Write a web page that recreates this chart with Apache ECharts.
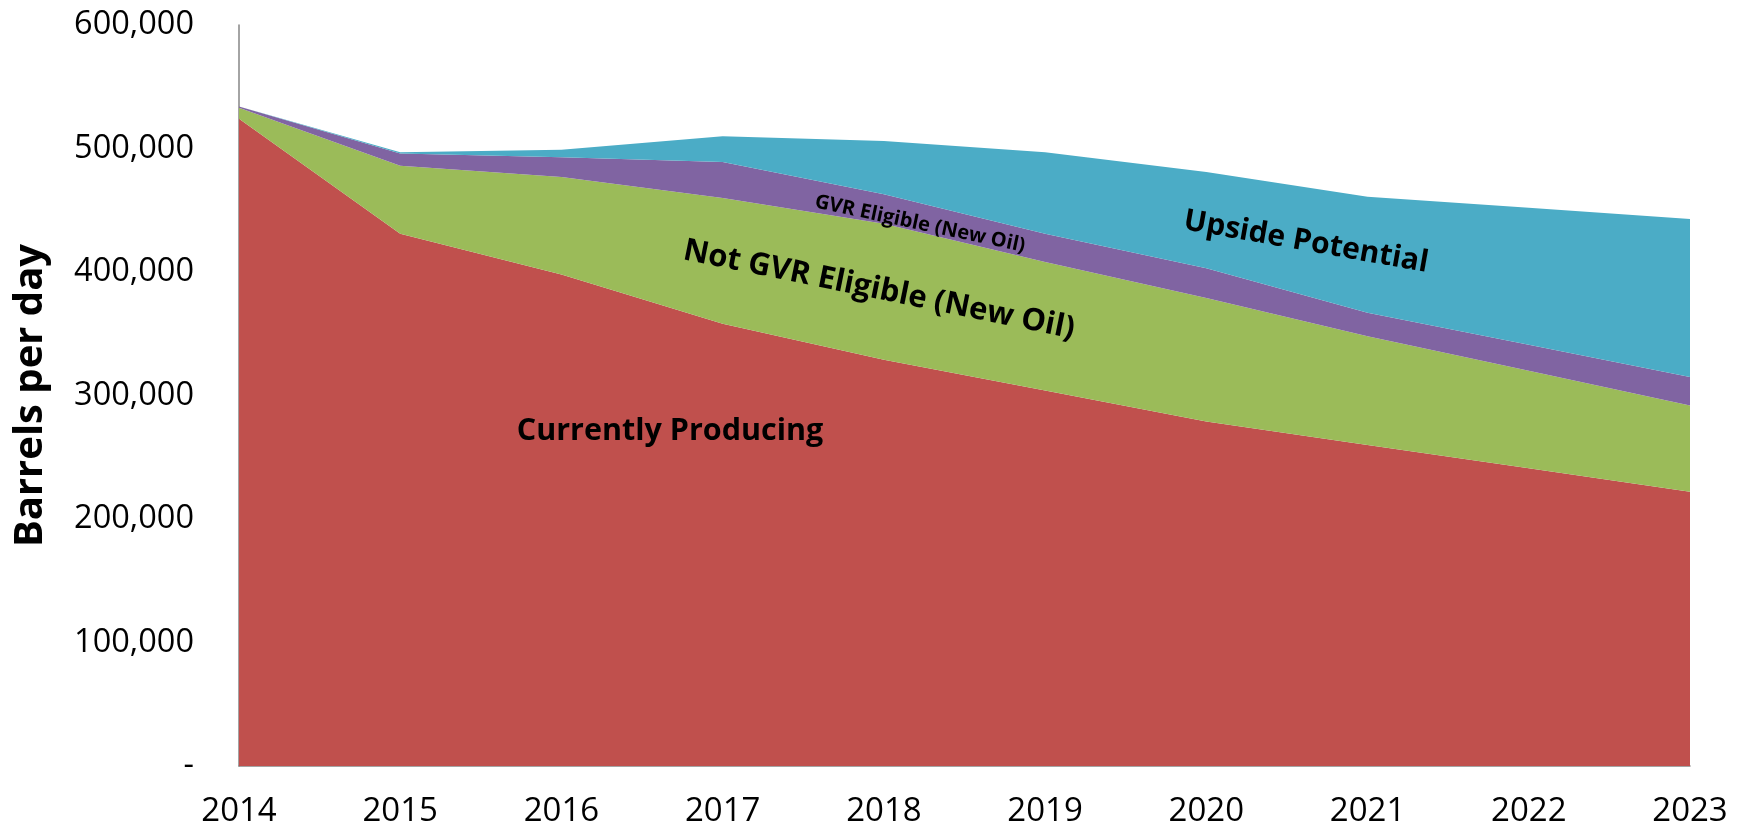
<!DOCTYPE html>
<html>
<head>
<meta charset="utf-8">
<script src="https://cdn.jsdelivr.net/npm/echarts@6/dist/echarts.min.js"></script>
<style>
  html, body { margin: 0; padding: 0; background: #fff; }
  #chart { width: 1745px; height: 833px; }
</style>
</head>
<body>
<div id="chart"></div>
<script>
// years on the x axis
const years = ['2014', '2015', '2016', '2017', '2018', '2019', '2020', '2021', '2022', '2023'];

// barrels per day, stacked bottom to top
const currentlyProducing = [524000, 431000, 398000, 358000, 329000, 304000, 279000, 260000, 241000, 222000];
const notGvrEligible     = [9000, 55000, 79000, 102000, 110000, 104000, 100000, 88000, 79000, 70000];
const gvrEligible        = [1000, 10000, 16000, 29000, 24000, 23000, 24000, 19000, 21000, 23000];
const upsidePotential    = [0, 1000, 6000, 21000, 43000, 66000, 78000, 94000, 111000, 128000];

const seriesNames = ['Currently Producing', 'Not GVR Eligible (New Oil)', 'GVR Eligible (New Oil)', 'Upside Potential'];
const colors = ['#C0504D', '#9BBB59', '#8064A2', '#4BACC6'];

const font = "'Open Sans', 'Noto Sans', sans-serif";

const chart = echarts.init(document.getElementById('chart'));

function areaSeries(name, data, color) {
  return {
    name: name,
    type: 'line',
    stack: 'total',
    data: data,
    showSymbol: false,
    lineStyle: { width: 0 },
    areaStyle: { color: color, opacity: 1 },
    itemStyle: { color: color },
    emphasis: { disabled: true }
  };
}

// annotation text inside the areas
function areaLabel(text, x, y, size, angleDeg) {
  return {
    type: 'text',
    x: x,
    y: y,
    rotation: -angleDeg * Math.PI / 180,
    z: 100,
    style: {
      text: text,
      fontFamily: font,
      fontWeight: 'bold',
      fontSize: size,
      fill: '#000',
      align: 'center',
      verticalAlign: 'middle'
    }
  };
}

const option = {
  animation: false,
  grid: { left: 239, right: 55, top: 25, bottom: 67 },
  xAxis: {
    type: 'category',
    data: years,
    boundaryGap: false,
    axisLine: { lineStyle: { color: '#868686', width: 1.5 } },
    axisTick: { show: false },
    axisLabel: { color: '#000', fontFamily: font, fontSize: 33, margin: 29 }
  },
  yAxis: {
    type: 'value',
    min: 0,
    max: 600000,
    interval: 100000,
    name: 'Barrels per day',
    nameLocation: 'middle',
    nameGap: 188,
    nameTextStyle: { color: '#000', fontFamily: font, fontWeight: 'bold', fontSize: 40 },
    axisLine: { show: true, lineStyle: { color: '#868686', width: 1.5 } },
    axisTick: { show: false },
    splitLine: { show: false },
    axisLabel: {
      color: '#000',
      fontFamily: font,
      fontSize: 32.5,
      margin: 45,
      formatter: v => v === 0 ? '-' : v.toLocaleString('en-US')
    }
  },
  series: [
    areaSeries(seriesNames[0], currentlyProducing, colors[0]),
    areaSeries(seriesNames[1], notGvrEligible, colors[1]),
    areaSeries(seriesNames[2], gvrEligible, colors[2]),
    areaSeries(seriesNames[3], upsidePotential, colors[3])
  ],
  graphic: [
    areaLabel('Currently Producing', 670, 431, 30.5, 0),
    areaLabel('Not GVR Eligible (New Oil)', 879, 290, 31, 11.5),
    areaLabel('GVR Eligible (New Oil)', 920, 224, 20, 12),
    areaLabel('Upside Potential', 1306, 242, 30, 10)
  ]
};

chart.setOption(option);
</script>
</body>
</html>
